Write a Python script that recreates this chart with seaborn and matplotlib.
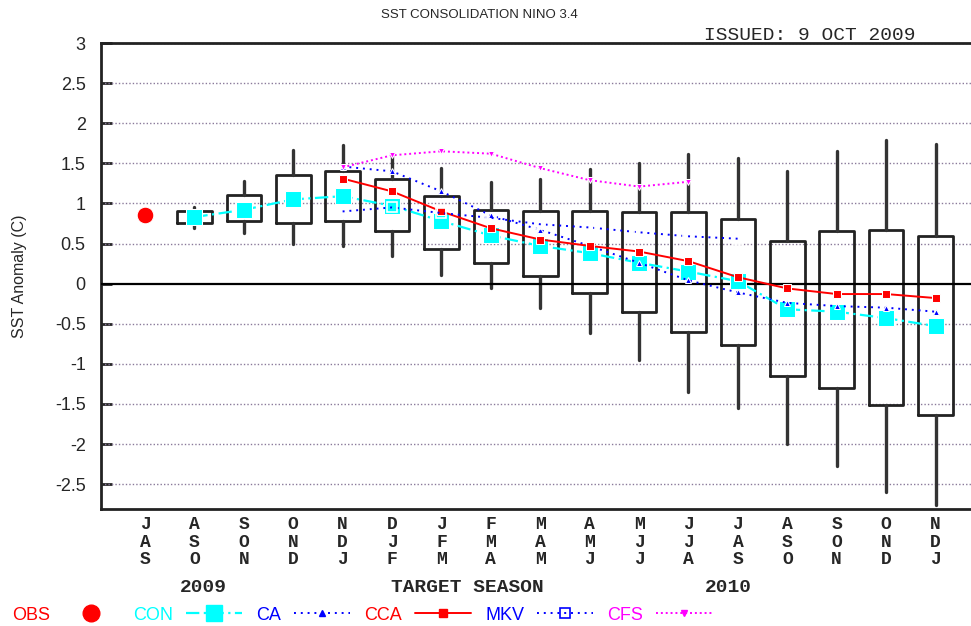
import numpy as np
import pandas as pd
import matplotlib
matplotlib.use("Agg")
import matplotlib.pyplot as plt
import seaborn as sns
from matplotlib.lines import Line2D

# target seasons (3-month running)
seasons = ['JAS', 'ASO', 'SON', 'OND', 'NDJ', 'DJF', 'JFM', 'FMA', 'MAM',
           'AMJ', 'MJJ', 'JJA', 'JAS', 'ASO', 'SON', 'OND', 'NDJ']

# spread boxes, ASO 2009 .. NDJ 2010
box_q3 = [0.90, 1.11, 1.36, 1.41, 1.30, 1.09, 0.92, 0.90, 0.90, 0.89, 0.89, 0.80, 0.53, 0.65, 0.67, 0.59]
box_q1 = [0.76, 0.78, 0.75, 0.78, 0.65, 0.43, 0.26, 0.09, -0.12, -0.35, -0.60, -0.77, -1.15, -1.30, -1.51, -1.64]
whis_hi = [0.96, 1.28, 1.67, 1.73, 1.62, 1.44, 1.27, 1.31, 1.43, 1.50, 1.62, 1.57, 1.40, 1.65, 1.79, 1.74]
whis_lo = [0.69, 0.63, 0.50, 0.47, 0.35, 0.11, -0.06, -0.30, -0.62, -0.95, -1.35, -1.55, -2.00, -2.27, -2.60, -2.76]

obs = [0.86]
con = [0.83, 0.92, 1.05, 1.09, 0.97, 0.78, 0.60, 0.47, 0.38, 0.26, 0.15, 0.03, -0.32, -0.35, -0.43, -0.53]
ca = [1.46, 1.40, 1.15, 0.85, 0.67, 0.47, 0.26, 0.04, -0.11, -0.24, -0.28, -0.30, -0.35]
cca = [1.31, 1.15, 0.90, 0.69, 0.55, 0.47, 0.40, 0.28, 0.08, -0.06, -0.13, -0.13, -0.18]
mkv = [0.90, 0.95, 0.88, 0.82, 0.74, 0.70, 0.64, 0.59, 0.56]
cfs = [1.45, 1.60, 1.65, 1.62, 1.44, 1.29, 1.21, 1.27]

sns.set_style("white")
plt.rcParams['font.family'] = ['Liberation Sans', 'DejaVu Sans']

fig = plt.figure(figsize=(9.71, 6.26), dpi=100)
ax = fig.add_axes([101/971, 117/626, 880/971, 466/626])

# boxes
stats = []
for i in range(len(box_q3)):
    stats.append(dict(q1=box_q1[i], q3=box_q3[i], med=box_q1[i],
                      whislo=whis_lo[i], whishi=whis_hi[i], fliers=[]))
ax.bxp(stats, positions=np.arange(1, len(box_q3) + 1), widths=0.7,
       showfliers=False, showcaps=False, manage_ticks=False, patch_artist=False,
       boxprops=dict(color='#222222', lw=2.0),
       whiskerprops=dict(color='#333333', lw=2.4),
       medianprops=dict(visible=False), zorder=2)

# series
series = [
    ('OBS', 0, obs, dict(color='red', ls='none', marker='o', ms=12)),
    ('CON', 1, con, dict(color='cyan', ls=(0, (6, 2, 1, 2)), lw=1.6, marker='s', ms=12)),
    ('CA', 4, ca, dict(color='blue', ls=(0, (1, 2.5)), lw=1.4, marker='^', ms=5)),
    ('CCA', 4, cca, dict(color='red', ls='-', lw=1.4, marker='s', ms=6)),
    ('MKV', 4, mkv, dict(color='blue', ls=(0, (1, 2.5)), lw=1.4, marker='s', ms=7, mfc='none', mew=1.2)),
    ('CFS', 4, cfs, dict(color='magenta', ls=(0, (1, 1.5)), lw=1.4, marker='v', ms=5)),
]
handles = []
for name, start, vals, kw in series:
    df = pd.DataFrame({'x': np.arange(start, start + len(vals)), 'y': vals})
    sns.lineplot(data=df, x='x', y='y', ax=ax, sort=False, zorder=4, **kw)
    handles.append(Line2D([], [], **kw))

# grid + zero line
for v in np.arange(-2.5, 3.01, 0.5):
    if abs(v) > 1e-9:
        ax.axhline(v, color='#8a7a9a', lw=1.0, ls=(0, (1, 1.5)), zorder=1)
ax.axhline(0, color='black', lw=1.6, zorder=3)

ax.set_xlim(-0.89, 16.92)
ax.set_ylim(-2.81, 3.0)
ax.set_yticks(np.arange(-2.5, 3.01, 0.5))
ax.set_yticklabels(['%g' % v for v in np.arange(-2.5, 3.01, 0.5)], fontsize=13)
ax.tick_params(axis='y', direction='in', length=8, width=2, pad=11, left=True)
ax.set_xticks(range(len(seasons)))
ax.set_xticklabels(['\n'.join(s) for s in seasons], family='Liberation Mono',
                   fontsize=13, fontweight='bold', linespacing=1.05)
ax.tick_params(axis='x', length=0, pad=5)
ax.set_xlabel('')
ax.set_ylabel('SST Anomaly (C)', fontsize=11.5, labelpad=20)
for s in ['left', 'top', 'bottom']:
    ax.spines[s].set_linewidth(2)
    ax.spines[s].set_color('#222222')
ax.spines['right'].set_visible(False)

fig.text(0.494, 0.976, 'SST CONSOLIDATION NINO 3.4', ha='center', va='center', fontsize=9.5)
fig.text(0.834, 0.944, 'ISSUED: 9 OCT 2009', ha='center', va='center',
         family='Liberation Mono', fontsize=14)
for txt, xp in [('2009', 203), ('TARGET SEASON', 467), ('2010', 728)]:
    fig.text(xp/971, 1 - 588/626, txt, ha='center', va='center',
             family='Liberation Mono', fontsize=14, fontweight='bold')

fig.legend(handles, [s[0] for s in series], loc='center left',
           bbox_to_anchor=(-0.004, 1 - 615/626), ncol=6, frameon=False,
           markerfirst=False, labelcolor='linecolor', fontsize=13,
           handlelength=3.1, handletextpad=0.7, columnspacing=0.8)

fig.savefig('out.png', dpi=100)
